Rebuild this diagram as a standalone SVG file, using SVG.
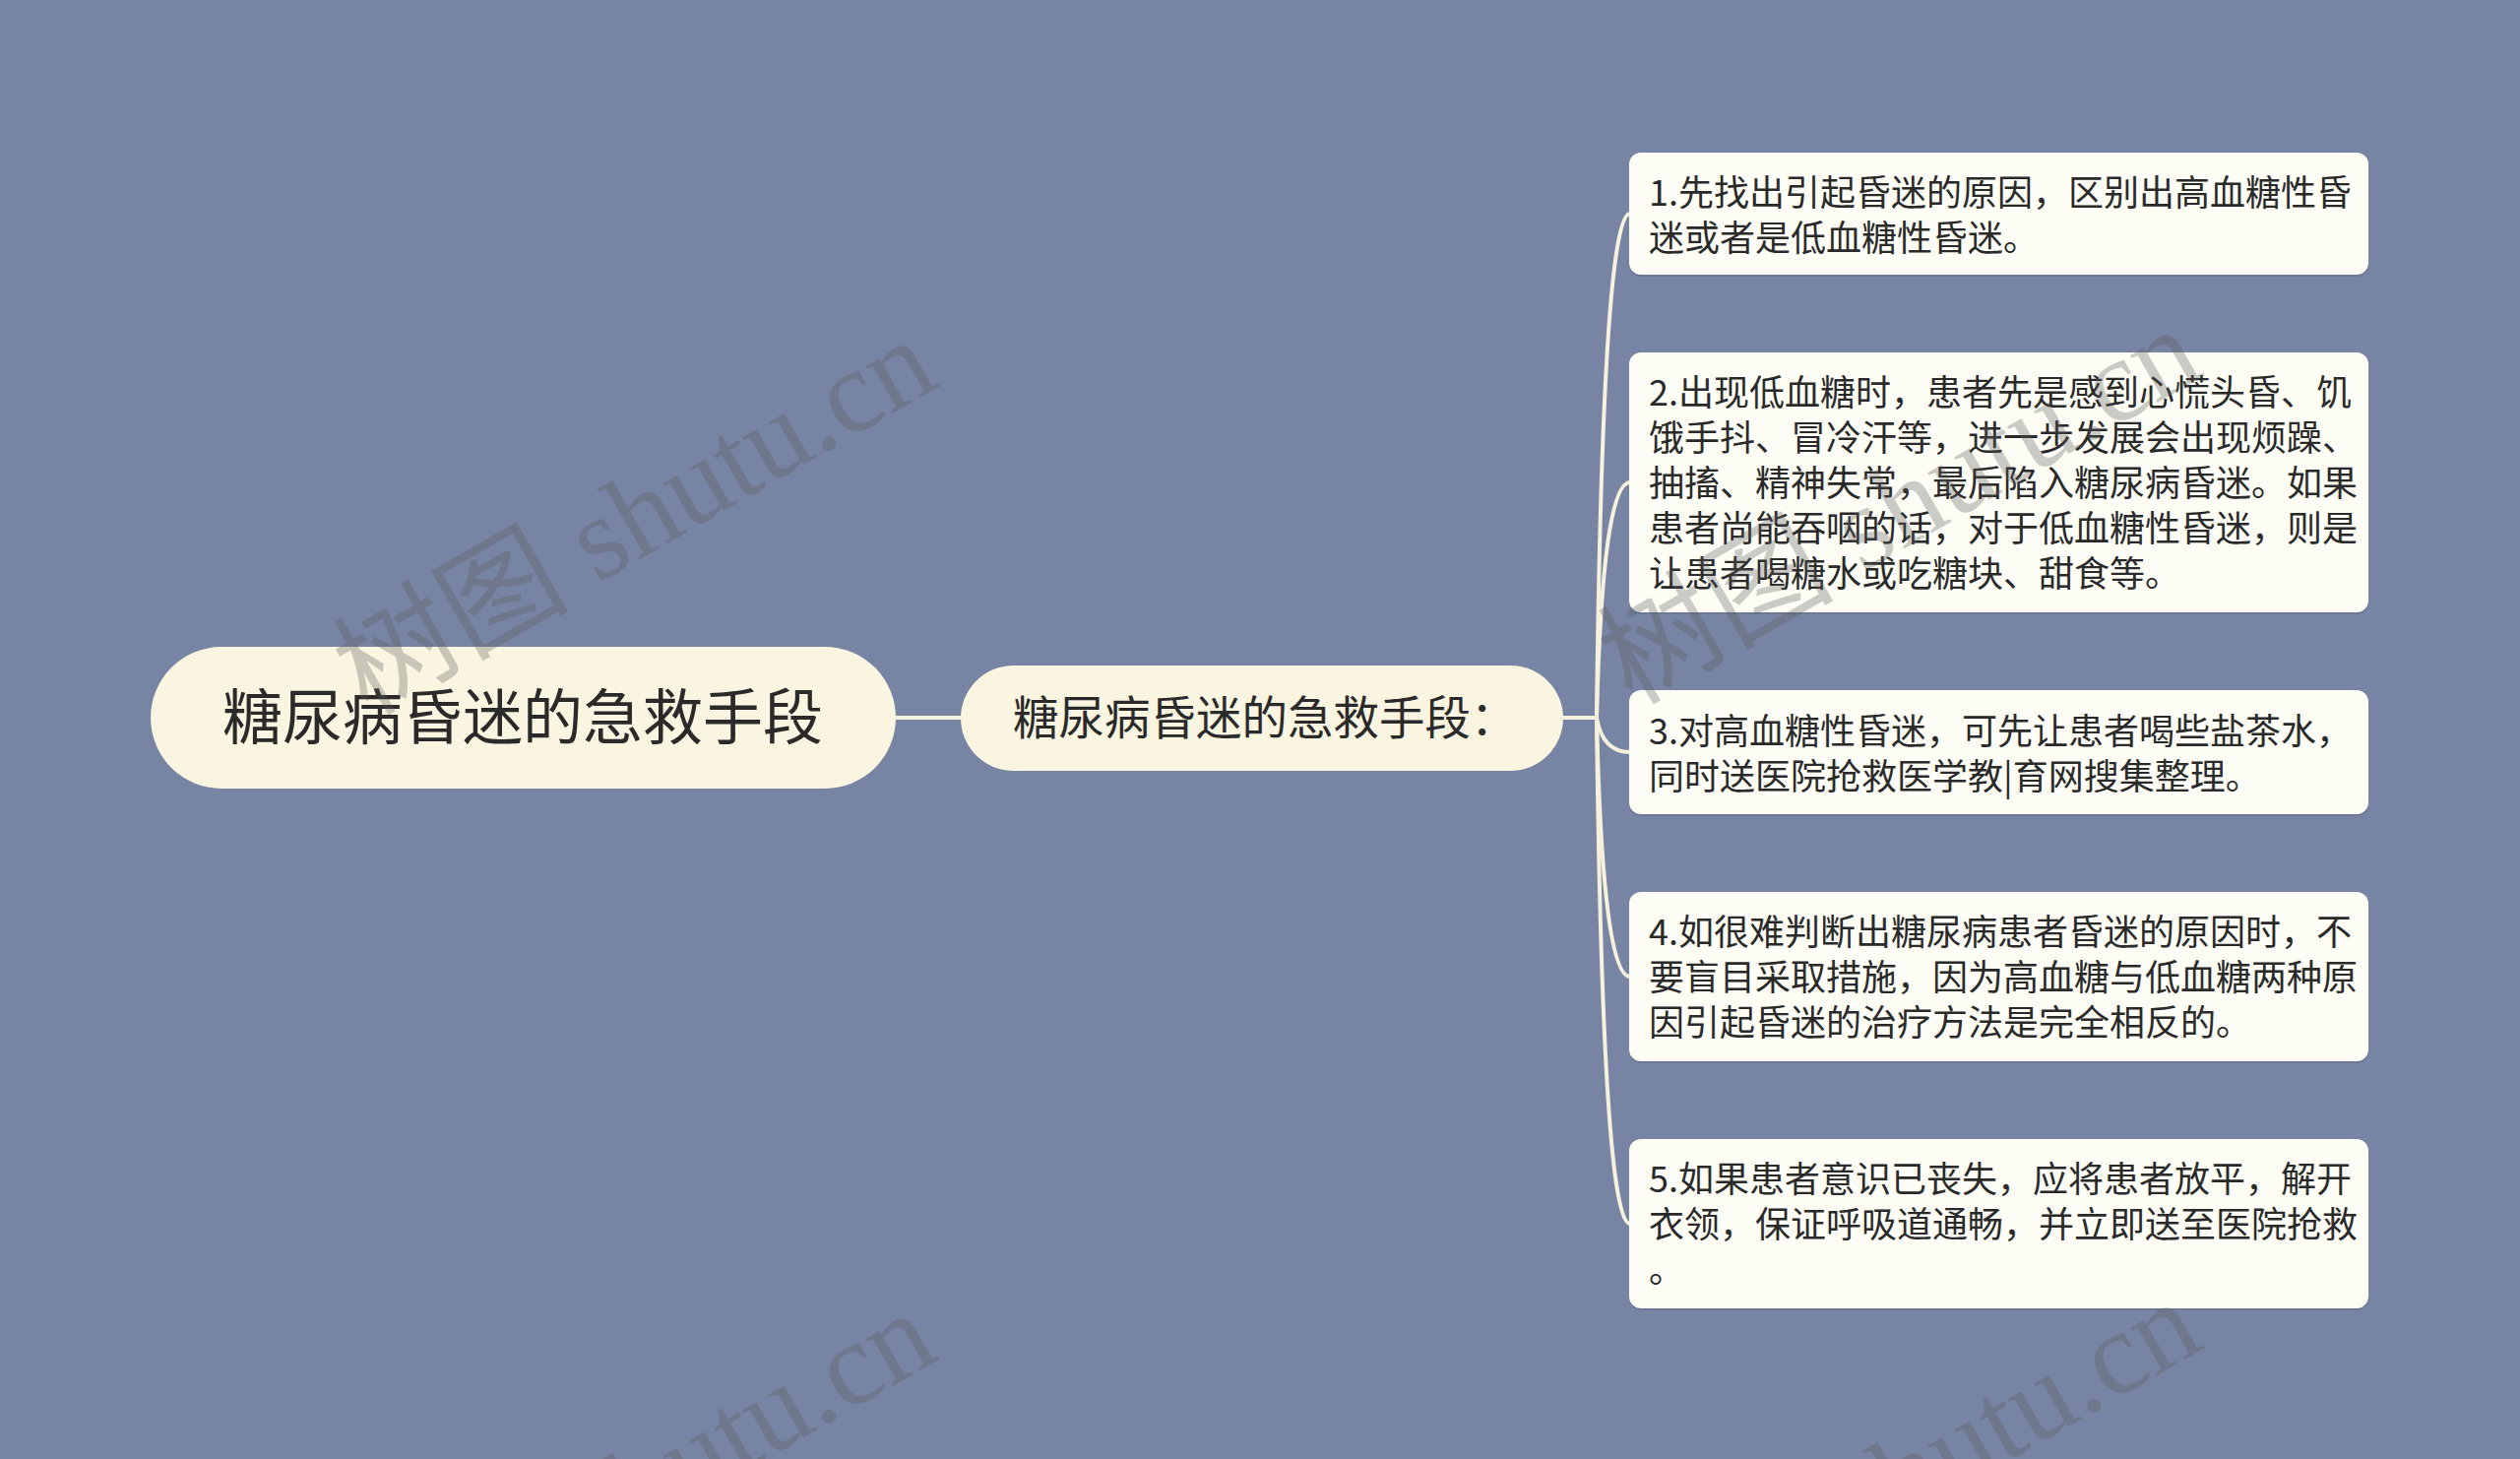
<svg xmlns="http://www.w3.org/2000/svg" width="2560" height="1482" viewBox="0 0 2560 1482">
<style>
.bg{fill:#7784a3}
.pill{fill:#faf5e1}
.leaf{fill:#fdfdf6}
.shadow{fill:#5f6a85;opacity:0.5}
.conn{fill:none;stroke:#f6f1dc;stroke-width:4;stroke-linecap:round}
.t{font-family:"Noto Sans CJK SC","Noto Sans",sans-serif;fill:#2a2a2a}
.lt{font-size:36px}
.wm{font-family:"Liberation Serif","Noto Sans CJK SC",serif;font-size:120px;fill:#5a5a5a;opacity:0.3}
</style>
<rect class="bg" x="0" y="0" width="2560" height="1482"/>
<g id="connectors">
<path class="conn" d="M910,729 L976,729"/>
<path class="conn" d="M1588,729 L1622,729"/>
<path class="conn" d="M1622,729 Q1628,217 1656,217"/>
<path class="conn" d="M1622,729 Q1628,490 1656,490"/>
<path class="conn" d="M1622,729 Q1628,764 1656,764"/>
<path class="conn" d="M1622,729 Q1628,992 1656,992"/>
<path class="conn" d="M1622,729 Q1628,1243 1656,1243"/>
</g>
<g id="root">
<rect class="pill" x="153" y="657" width="757" height="144" rx="72"/>
<text class="t" x="531" y="751" font-size="61" text-anchor="middle">糖尿病昏迷的急救手段</text>
</g>
<g id="sub">
<rect class="pill" x="976" y="676" width="612" height="107" rx="53.5"/>
<text class="t" x="1029" y="746" font-size="46.5">糖尿病昏迷的急救手段：</text>
</g>
<g id="leaf1">
<rect class="shadow" x="1655" y="157" width="751" height="124" rx="12"/>
<rect class="leaf" x="1655" y="155" width="751" height="124" rx="12"/>
<text class="t lt" x="1675"><tspan x="1675" y="209">1.先找出引起昏迷的原因，区别出高血糖性昏</tspan><tspan x="1675" y="255">迷或者是低血糖性昏迷。</tspan></text>
</g>
<g id="leaf2">
<rect class="shadow" x="1655" y="360" width="751" height="264" rx="12"/>
<rect class="leaf" x="1655" y="358" width="751" height="264" rx="12"/>
<text class="t lt"><tspan x="1675" y="412">2.出现低血糖时，患者先是感到心慌头昏、饥</tspan><tspan x="1675" y="458">饿手抖、冒冷汗等，进一步发展会出现烦躁、</tspan><tspan x="1675" y="504">抽搐、精神失常，最后陷入糖尿病昏迷。如果</tspan><tspan x="1675" y="550">患者尚能吞咽的话，对于低血糖性昏迷，则是</tspan><tspan x="1675" y="596">让患者喝糖水或吃糖块、甜食等。</tspan></text>
</g>
<g id="leaf3">
<rect class="shadow" x="1655" y="703" width="751" height="126" rx="12"/>
<rect class="leaf" x="1655" y="701" width="751" height="126" rx="12"/>
<text class="t lt"><tspan x="1675" y="756">3.对高血糖性昏迷，可先让患者喝些盐茶水，</tspan><tspan x="1675" y="802">同时送医院抢救医学教|育网搜集整理。</tspan></text>
</g>
<g id="leaf4">
<rect class="shadow" x="1655" y="908" width="751" height="172" rx="12"/>
<rect class="leaf" x="1655" y="906" width="751" height="172" rx="12"/>
<text class="t lt"><tspan x="1675" y="960">4.如很难判断出糖尿病患者昏迷的原因时，不</tspan><tspan x="1675" y="1006">要盲目采取措施，因为高血糖与低血糖两种原</tspan><tspan x="1675" y="1052">因引起昏迷的治疗方法是完全相反的。</tspan></text>
</g>
<g id="leaf5">
<rect class="shadow" x="1655" y="1159" width="751" height="172" rx="12"/>
<rect class="leaf" x="1655" y="1157" width="751" height="172" rx="12"/>
<text class="t lt"><tspan x="1675" y="1211">5.如果患者意识已丧失，应将患者放平，解开</tspan><tspan x="1675" y="1257">衣领，保证呼吸道通畅，并立即送至医院抢救</tspan><tspan x="1675" y="1303">。</tspan></text>
</g>
<g id="watermarks">
<text class="wm" transform="translate(373,728) rotate(-30)">树图 shutu.cn</text>
<text class="wm" transform="translate(1658,717) rotate(-30)">树图 shutu.cn</text>
<text class="wm" transform="translate(373,1716) rotate(-30)">树图 shutu.cn</text>
<text class="wm" transform="translate(1658,1705) rotate(-30)">树图 shutu.cn</text>
</g>
</svg>
